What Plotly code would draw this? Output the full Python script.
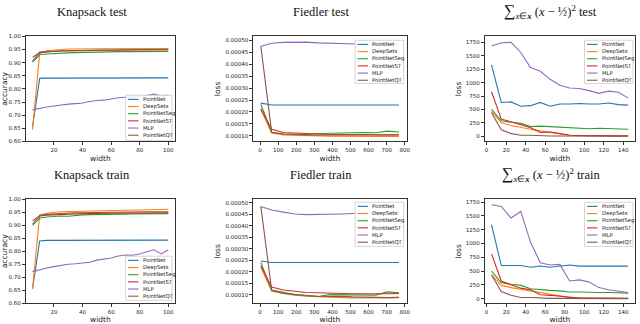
import plotly.graph_objects as go
from plotly.subplots import make_subplots

# ---- data ----
names = ["PointNet", "DeepSets", "PointNetSeg", "PointNetST", "MLP", "PointNetQT"]
colors = ["#1f77b4", "#ff7f0e", "#2ca02c", "#d62728", "#9467bd", "#8c564b"]

knap_width = [5, 10, 15, 20, 25, 30, 35, 40, 45, 50, 55, 60, 65, 70, 75, 80, 85, 90, 95, 100]
fied_width = [4, 64, 128, 192, 256, 320, 384, 448, 512, 576, 640, 704, 768]
sum_width = [5, 15, 25, 35, 45, 55, 65, 75, 85, 95, 105, 115, 125, 135, 145]

knap_test = [
    [0.655, 0.840, 0.841, 0.841, 0.841, 0.841, 0.841, 0.841, 0.841, 0.841, 0.841, 0.841, 0.841, 0.841, 0.841, 0.841, 0.841, 0.841, 0.841, 0.842],
    [0.645, 0.935, 0.945, 0.948, 0.951, 0.952, 0.952, 0.953, 0.953, 0.953, 0.953, 0.953, 0.953, 0.953, 0.954, 0.954, 0.954, 0.954, 0.954, 0.954],
    [0.902, 0.930, 0.933, 0.935, 0.937, 0.937, 0.938, 0.939, 0.940, 0.941, 0.941, 0.942, 0.942, 0.942, 0.942, 0.943, 0.943, 0.943, 0.943, 0.943],
    [0.920, 0.938, 0.941, 0.943, 0.944, 0.944, 0.945, 0.945, 0.946, 0.946, 0.947, 0.947, 0.947, 0.948, 0.948, 0.948, 0.948, 0.948, 0.949, 0.949],
    [0.720, 0.726, 0.731, 0.735, 0.739, 0.742, 0.744, 0.746, 0.752, 0.756, 0.757, 0.762, 0.766, 0.768, 0.769, 0.771, 0.775, 0.780, 0.773, 0.777],
    [0.905, 0.940, 0.942, 0.944, 0.945, 0.946, 0.946, 0.947, 0.947, 0.948, 0.948, 0.948, 0.949, 0.949, 0.949, 0.950, 0.950, 0.950, 0.950, 0.950],
]
knap_train = [
    [0.655, 0.840, 0.842, 0.842, 0.842, 0.842, 0.842, 0.842, 0.842, 0.842, 0.842, 0.843, 0.843, 0.843, 0.843, 0.843, 0.843, 0.843, 0.843, 0.843],
    [0.655, 0.940, 0.945, 0.950, 0.952, 0.953, 0.954, 0.955, 0.955, 0.956, 0.956, 0.957, 0.957, 0.958, 0.958, 0.959, 0.959, 0.960, 0.961, 0.962],
    [0.900, 0.928, 0.932, 0.935, 0.936, 0.935, 0.938, 0.940, 0.941, 0.941, 0.942, 0.942, 0.943, 0.943, 0.944, 0.944, 0.944, 0.945, 0.945, 0.945],
    [0.918, 0.936, 0.939, 0.941, 0.942, 0.943, 0.944, 0.945, 0.945, 0.946, 0.946, 0.947, 0.947, 0.947, 0.948, 0.948, 0.948, 0.948, 0.948, 0.948],
    [0.722, 0.730, 0.736, 0.741, 0.746, 0.750, 0.752, 0.754, 0.758, 0.766, 0.770, 0.774, 0.782, 0.786, 0.785, 0.790, 0.798, 0.806, 0.790, 0.806],
    [0.905, 0.938, 0.942, 0.944, 0.946, 0.947, 0.948, 0.948, 0.949, 0.949, 0.950, 0.950, 0.950, 0.951, 0.951, 0.951, 0.952, 0.952, 0.952, 0.952],
]
fied_test = [
    [0.000237, 0.000229, 0.000229, 0.000229, 0.000229, 0.000228, 0.000229, 0.000229, 0.000229, 0.000229, 0.000229, 0.000229, 0.000229],
    [0.000210, 0.000112, 0.000104, 0.000102, 0.000100, 0.000100, 0.000099, 0.000099, 0.000098, 0.000098, 0.000098, 0.000099, 0.000098],
    [0.000232, 0.000115, 0.000108, 0.000106, 0.000106, 0.000110, 0.000112, 0.000112, 0.000113, 0.000114, 0.000113, 0.000120, 0.000116],
    [0.000213, 0.000128, 0.000114, 0.000112, 0.000108, 0.000107, 0.000106, 0.000106, 0.000106, 0.000105, 0.000104, 0.000104, 0.000105],
    [0.000475, 0.000487, 0.000491, 0.000492, 0.000492, 0.000489, 0.000487, 0.000485, 0.000484, 0.000483, 0.000483, 0.000483, 0.000483],
    [0.000475, 0.000115, 0.000108, 0.000105, 0.000104, 0.000104, 0.000104, 0.000103, 0.000104, 0.000103, 0.000103, 0.000104, 0.000104],
]
fied_train = [
    [0.000247, 0.000240, 0.000240, 0.000240, 0.000240, 0.000240, 0.000240, 0.000240, 0.000240, 0.000240, 0.000240, 0.000240, 0.000240],
    [0.000220, 0.000115, 0.000105, 0.000097, 0.000093, 0.000090, 0.000088, 0.000087, 0.000086, 0.000086, 0.000086, 0.000086, 0.000087],
    [0.000240, 0.000120, 0.000110, 0.000100, 0.000095, 0.000092, 0.000100, 0.000100, 0.000100, 0.000100, 0.000098, 0.000112, 0.000108],
    [0.000225, 0.000133, 0.000120, 0.000113, 0.000109, 0.000108, 0.000106, 0.000105, 0.000104, 0.000104, 0.000103, 0.000104, 0.000105],
    [0.000485, 0.000469, 0.000460, 0.000452, 0.000449, 0.000449, 0.000450, 0.000452, 0.000454, 0.000456, 0.000458, 0.000460, 0.000461],
    [0.000485, 0.000120, 0.000105, 0.000100, 0.000095, 0.000093, 0.000092, 0.000093, 0.000090, 0.000088, 0.000088, 0.000087, 0.000088],
]
sum_test = [
    [1330, 630, 640, 560, 570, 630, 560, 600, 600, 610, 600, 600, 620, 590, 580],
    [460, 250, 200, 160, 130, 100, 70, 40, 20, 10, 10, 8, 5, 5, 5],
    [500, 290, 260, 240, 180, 190, 180, 170, 160, 160, 140, 150, 145, 140, 130],
    [830, 320, 270, 220, 160, 70, 80, 50, 20, 15, 10, 10, 10, 8, 10],
    [1680, 1740, 1750, 1560, 1280, 1210, 1060, 950, 900, 890, 850, 800, 840, 820, 710],
    [440, 120, 50, 20, 20, 10, 5, 5, 5, 5, 0, 0, 0, 0, 0],
]
sum_train = [
    [1340, 600, 600, 600, 570, 590, 570, 590, 610, 590, 590, 600, 590, 590, 590],
    [430, 240, 200, 170, 140, 110, 70, 40, 20, 10, 10, 5, 5, 5, 5],
    [500, 290, 260, 240, 180, 160, 150, 140, 120, 120, 110, 110, 110, 110, 100],
    [810, 320, 250, 190, 160, 70, 60, 40, 20, 10, 10, 10, 5, 5, 5],
    [1700, 1670, 1460, 1580, 1020, 650, 610, 620, 320, 340, 300, 200, 160, 140, 110],
    [430, 130, 60, 20, 20, 10, 5, 5, 5, 5, 0, 0, 0, 0, 0],
]

sum_title = ("<span style='font-size:16px'>∑</span><sub><i>x</i>∈<b><i>x</i></b></sub>"
             " (<i>x</i> − ½)<sup>2</sup> ")

W, H = 640, 324

# panel frames in pixels (left, top, right, bottom)
panels = [
    dict(row=1, col=1, box=(23, 34, 174, 141), x=knap_width, ys=knap_test, title="Knapsack test",
         tx=90, ty=9, ylab="accuracy", leg=(124, 94, 171, 140)),
    dict(row=1, col=2, box=(253, 34, 408, 141), x=fied_width, ys=fied_test, title="Fiedler test",
         tx=322, ty=9, ylab="loss", leg=(356, 38, 405, 82)),
    dict(row=1, col=3, box=(487, 34, 639, 141), x=sum_width, ys=sum_test, title=sum_title + "test",
         tx=554, ty=9, ylab="loss", leg=(588, 38, 637, 82)),
    dict(row=2, col=1, box=(23, 200, 174, 306), x=knap_width, ys=knap_train, title="Knapsack train",
         tx=90, ty=175, ylab="accuracy", leg=(124, 258, 171, 303)),
    dict(row=2, col=2, box=(253, 200, 408, 306), x=fied_width, ys=fied_train, title="Fiedler train",
         tx=322, ty=175, ylab="loss", leg=(356, 203, 405, 248)),
    dict(row=2, col=3, box=(487, 200, 639, 306), x=sum_width, ys=sum_train, title=sum_title + "train",
         tx=555, ty=175, ylab="loss", leg=(588, 203, 637, 248)),
]

fig = make_subplots(rows=2, cols=3)

tick_font = dict(family="DejaVu Sans", size=5.5, color="#222")
ax_common = dict(showgrid=False, zeroline=False, showline=True, mirror=True,
                 linecolor="#333", linewidth=0.8, ticks="outside", ticklen=3,
                 tickwidth=0.7, tickcolor="#333", tickfont=tick_font)

for p in panels:
    r, c = p["row"], p["col"]
    for name, color, y in zip(names, colors, p["ys"]):
        fig.add_trace(go.Scatter(x=p["x"], y=y, mode="lines", name=name,
                                 line=dict(color=color, width=1.1), showlegend=False),
                      row=r, col=c)
    x0, y0, x1, y1 = p["box"]
    fig.update_xaxes(domain=[x0 / W, x1 / W], row=r, col=c)
    fig.update_yaxes(domain=[1 - y1 / H, 1 - y0 / H], row=r, col=c)

    # title
    fig.add_annotation(x=p["tx"] / W, y=1 - p["ty"] / H, xref="paper", yref="paper",
                       text=p["title"], showarrow=False, xanchor="center", yanchor="middle",
                       font=dict(family="Liberation Serif", size=12.5, color="#111"))

    # legend box drawn by hand (compact, like matplotlib)
    lx0, ly0, lx1, ly1 = p["leg"]
    fig.add_shape(type="rect", xref="paper", yref="paper",
                  x0=lx0 / W, x1=lx1 / W, y0=1 - ly1 / H, y1=1 - ly0 / H,
                  fillcolor="rgba(255,255,255,0.85)", line=dict(color="#cccccc", width=0.8))
    for i, (name, color) in enumerate(zip(names, colors)):
        yy = ly0 + 4.2 + i * 7.3
        fig.add_shape(type="line", xref="paper", yref="paper",
                      x0=(lx0 + 2.5) / W, x1=(lx0 + 13) / W, y0=1 - yy / H, y1=1 - yy / H,
                      line=dict(color=color, width=1.1))
        fig.add_annotation(x=(lx0 + 15.5) / W, y=1 - yy / H, xref="paper", yref="paper",
                           text=name, showarrow=False, xanchor="left", yanchor="middle",
                           font=dict(family="DejaVu Sans", size=5.3, color="#222"))

fig.update_xaxes(**ax_common)
fig.update_yaxes(**ax_common)

axis_title = dict(font=dict(family="DejaVu Sans", size=7.5, color="#222"), standoff=3)

for r in (1, 2):
    fig.update_xaxes(range=[0.25, 104.75], tickvals=[20, 40, 60, 80, 100], row=r, col=1,
                     title=dict(text="width", **axis_title))
    fig.update_yaxes(range=[0.6, 1.0], tickvals=[0.6, 0.65, 0.7, 0.75, 0.8, 0.85, 0.9, 0.95, 1.0],
                     tickformat=".2f", row=r, col=1, title=dict(text="accuracy", **axis_title))
    fig.update_xaxes(range=[-38, 810], tickvals=[0, 100, 200, 300, 400, 500, 600, 700, 800], row=r, col=2,
                     title=dict(text="width", **axis_title))
    fig.update_yaxes(tickvals=[0.0001, 0.00015, 0.0002, 0.00025, 0.0003, 0.00035, 0.0004, 0.00045, 0.0005],
                     tickformat=".5f", row=r, col=2, title=dict(text="loss", **axis_title))
    fig.update_xaxes(range=[-2, 152], tickvals=[0, 20, 40, 60, 80, 100, 120, 140], row=r, col=3,
                     title=dict(text="width", **axis_title))
    fig.update_yaxes(tickvals=[0, 250, 500, 750, 1000, 1250, 1500, 1750], row=r, col=3,
                     title=dict(text="loss", **axis_title))

fig.update_yaxes(range=[0.000077, 0.000516], row=1, col=2)
fig.update_yaxes(range=[0.000062, 0.000516], row=2, col=2)
fig.update_yaxes(range=[-95, 1860], row=1, col=3)
fig.update_yaxes(range=[-85, 1800], row=2, col=3)

fig.update_layout(width=W, height=H, margin=dict(l=0, r=0, t=0, b=0),
                  paper_bgcolor="white", plot_bgcolor="white", showlegend=False)

# the page's default body margin would shift the fixed-size figure
fig.write_html("out.html", config={"displayModeBar": False},
               post_script="document.body.style.margin='0';")
